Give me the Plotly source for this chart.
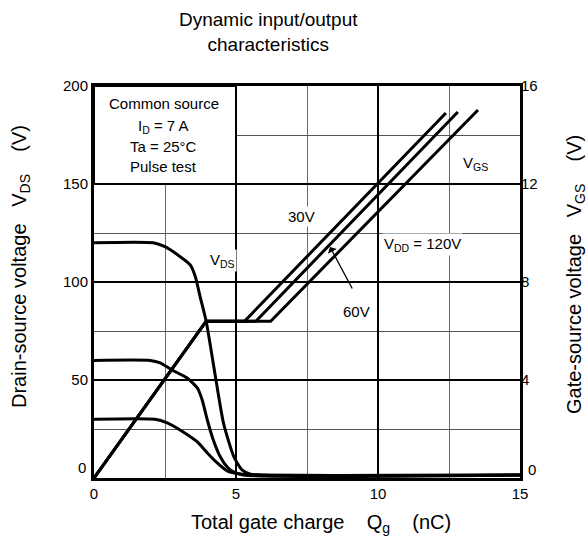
import plotly.graph_objects as go

# ---------------- data ----------------
# Drain-source voltage curves (left axis, V) vs total gate charge (nC)
qg_vds_120 = [0, 2.08, 2.5, 2.93, 3.39, 3.57, 3.74, 3.95, 4.25, 4.56, 4.92, 5.21, 5.51, 5.97, 15]
vds_120 = [120, 120, 118, 114, 108.7, 102.6, 92.3, 80, 54, 28, 11, 4.1, 2.0, 1.5, 1.5]

qg_vds_60 = [0, 1.98, 2.33, 2.75, 3.28, 3.64, 3.81, 3.99, 4.2, 4.45, 4.69, 4.91, 5.26, 15]
vds_60 = [60, 60, 58.7, 55.1, 51, 45.9, 39.8, 29.6, 19.4, 10.7, 5.6, 3.1, 1.5, 1.5]

qg_vds_30 = [0, 2.15, 2.58, 3.14, 3.64, 3.99, 4.34, 4.69, 5.15, 5.7, 15]
vds_30 = [30, 30, 28.1, 23.5, 18.4, 12.8, 7.7, 3.6, 2.0, 1.5, 1.5]

# Gate-source voltage curves (right axis, V)
qg_vgs_30 = [0, 3.95, 5.3, 12.39]
vgs_30 = [0, 6.4, 6.4, 14.9]
qg_vgs_60 = [0, 3.95, 5.7, 12.81]
vgs_60 = [0, 6.4, 6.4, 14.94]
qg_vgs_120 = [0, 3.95, 6.22, 13.52]
vgs_120 = [0, 6.4, 6.4, 15.02]

x_ticks = [0, 5, 10, 15]
y_left_ticks = [50, 100, 150, 200]
y_right_ticks = [4, 8, 12, 16]

FONT = "Liberation Sans, Arial, sans-serif"
NB = "\u00a0"

W, H = 588, 538
L, T = 94, 86
PW, PH = 426, 392          # plot area in pixels
R, B = W - L - PW, H - T - PH

fig = go.Figure()
line = dict(color="black", width=3)
for qx, vy in [(qg_vds_120, vds_120), (qg_vds_60, vds_60), (qg_vds_30, vds_30)]:
    fig.add_trace(go.Scatter(x=qx, y=vy, mode="lines", yaxis="y",
                             line=dict(color="black", width=3, shape="spline", smoothing=0.6),
                             showlegend=False, hoverinfo="skip"))
for qx, vy in [(qg_vgs_30, vgs_30), (qg_vgs_60, vgs_60), (qg_vgs_120, vgs_120)]:
    fig.add_trace(go.Scatter(x=qx, y=vy, mode="lines", yaxis="y2", line=line,
                             showlegend=False, hoverinfo="skip"))

fig.update_layout(
    width=W, height=H,
    margin=dict(l=L, r=R, t=T, b=B, pad=0),
    paper_bgcolor="white", plot_bgcolor="white",
    font=dict(family=FONT, color="black", size=15),
    showlegend=False,
    xaxis=dict(range=[0, 15], tickvals=x_ticks, ticks="", showline=True, mirror=True,
               linecolor="black", linewidth=3, showgrid=True, gridcolor="black", gridwidth=2,
               zeroline=False, tickfont=dict(size=15),
               minor=dict(dtick=2.5, tick0=0, showgrid=True, gridcolor="#6a6a6a", gridwidth=1, ticks="")),
    yaxis=dict(range=[0, 200], tickvals=y_left_ticks, ticks="", showline=True, mirror=True,
               linecolor="black", linewidth=3, showgrid=True, gridcolor="black", gridwidth=2,
               zeroline=False, tickfont=dict(size=15),
               minor=dict(dtick=25, tick0=0, showgrid=True, gridcolor="#555555", gridwidth=1, ticks="")),
    yaxis2=dict(range=[0, 16], tickvals=y_right_ticks, overlaying="y", side="right", ticks="",
                showgrid=False, zeroline=False, showline=False, tickfont=dict(size=15)),
)

# condition box
fig.add_shape(type="rect", xref="x", yref="y", x0=0, x1=5, y0=150, y1=200,
              fillcolor="white", line=dict(color="black", width=2), layer="above")

anns = []
box_lines = ["Common source", "I<sub>D</sub> = 7 A", "Ta = 25°C", "Pulse test"]
box_y = [191.3, 179.3, 169.0, 158.7]
for t, yy in zip(box_lines, box_y):
    anns.append(dict(x=2.45, y=yy, xref="x", yref="y", text=t, showarrow=False,
                     font=dict(size=15), xanchor="center", yanchor="middle"))

def lab(x, y, t, size=15, bg="white"):
    return dict(x=x, y=y, xref="x", yref="y", text=t, showarrow=False,
                font=dict(size=size), bgcolor=bg, borderpad=1,
                xanchor="center", yanchor="middle")

def px_x(p):  # reference pixel -> paper
    return (p - 94) / PW

def px_y(p):
    return (478 - p) / PH

anns += [
    lab(4.51, 111.2, "V<sub>DS</sub>"),
    lab(13.42, 160.7, "V<sub>GS</sub>"),
    lab(7.32, 133.2, "30V"),
    lab(11.58, 118.9, "V<sub>DD</sub> = 120V"),
    lab(9.26, 84.7, "60V"),
    dict(x=8.31, y=117.9, ax=9.12, ay=95.9, xref="x", yref="y", axref="x", ayref="y",
         text="", showarrow=True, arrowhead=1, arrowsize=1.3, arrowwidth=1.3, arrowcolor="black"),
    # zero tick labels (raised as in the reference)
    dict(x=0, y=0, xref="paper", yref="y", text="0", showarrow=False, font=dict(size=15),
         xanchor="right", yanchor="middle", xshift=-6, yshift=11),
    dict(x=1, y=0, xref="paper", yref="y", text="0", showarrow=False, font=dict(size=15),
         xanchor="left", yanchor="middle", xshift=6, yshift=9),
    # title
    dict(x=px_x(268), y=px_y(31.5), xref="paper", yref="paper",
         text="Dynamic input/output<br>characteristics", showarrow=False,
         font=dict(size=19), xanchor="center", yanchor="middle"),
    # axis titles
    dict(x=px_x(321), y=px_y(523), xref="paper", yref="paper",
         text="Total gate charge" + NB * 4 + "Q<sub>g</sub>" + NB * 4 + "(nC)", showarrow=False,
         font=dict(size=20), xanchor="center", yanchor="middle"),
    dict(x=px_x(20), y=px_y(267), xref="paper", yref="paper", textangle=-90,
         text="Drain-source voltage" + NB * 3 + "V<sub>DS</sub>" + NB * 4 + "(V)", showarrow=False,
         font=dict(size=20), xanchor="center", yanchor="middle"),
    dict(x=px_x(575), y=px_y(275), xref="paper", yref="paper", textangle=-90,
         text="Gate-source voltage" + NB * 3 + "V<sub>GS</sub>" + NB * 4 + "(V)", showarrow=False,
         font=dict(size=20), xanchor="center", yanchor="middle"),
]
fig.update_layout(annotations=anns)

fig.write_html("out.html", config={"displayModeBar": False},
               post_script="document.body.style.margin='0';document.body.style.overflow='hidden';")
